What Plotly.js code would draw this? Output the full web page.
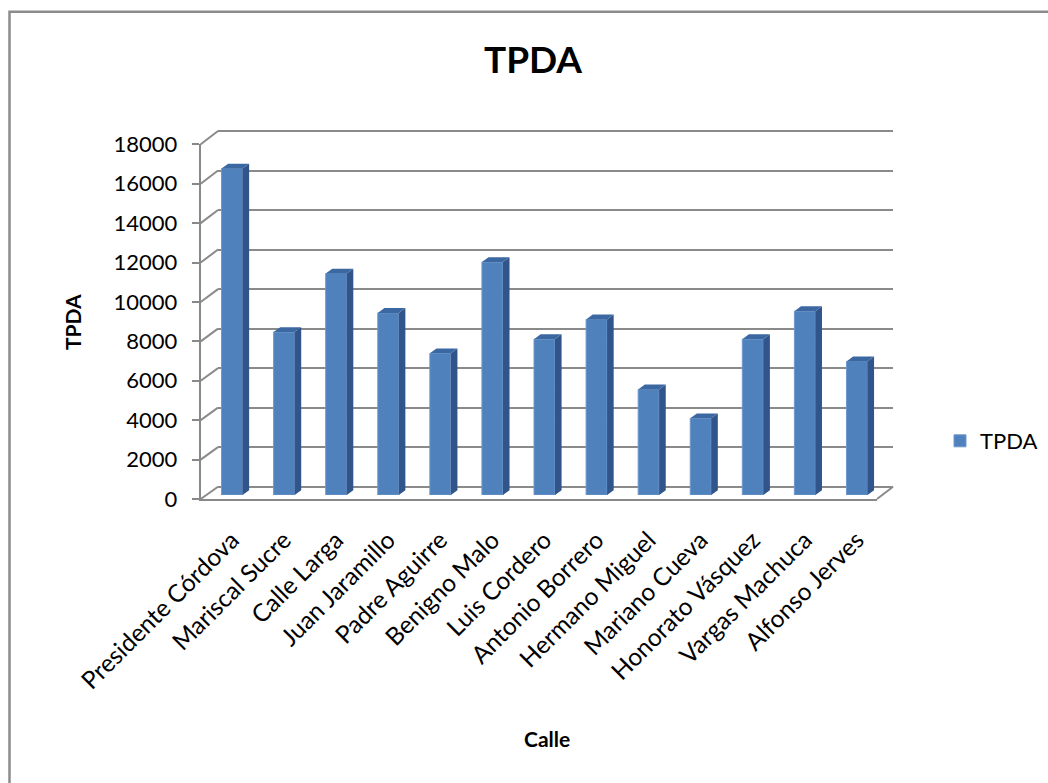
<!DOCTYPE html>
<html>
<head>
<meta charset="utf-8">
<script src="https://cdn.plot.ly/plotly-3.0.1.min.js"></script>
<style>
  html, body { margin: 0; padding: 0; background: #ffffff; }
  #chart { width: 1048px; height: 783px; }
</style>
</head>
<body>
<div id="chart"></div>
<script>
// Street names (x categories)
const categories = [
  "Presidente Córdova", "Mariscal Sucre", "Calle Larga", "Juan Jaramillo",
  "Padre Aguirre", "Benigno Malo", "Luis Cordero", "Antonio Borrero",
  "Hermano Miguel", "Mariano Cueva", "Honorato Vásquez", "Vargas Machuca",
  "Alfonso Jerves"
];

// TPDA value for each street
const tpda = [16570, 8270, 11240, 9240, 7190, 11820, 7910, 8910, 5360, 3890, 7910, 9330, 6780];

// Value axis ticks
const yTicks = [0, 2000, 4000, 6000, 8000, 10000, 12000, 14000, 16000, 18000];
const yMax = 18000;

const seriesName = "TPDA";
const chartTitle = "TPDA";
const xTitle = "Calle";
const yTitle = "TPDA";

// ---- page geometry (pixels) for the pseudo-3D box ----
const W = 1048, H = 783;
const fx = p => p / W;
const fy = p => 1 - p / H;

// front face of the box (value axis + floor edge)
const front = { left: 200.7, right: 877, bottom: 499, top: 144.3 };
// back wall with the gridlines
const back = { left: 218, right: 893, bottom: 486.7, top: 131 };
// band where the columns sit (mid depth)
const band = { left: 206, right: 883, base: 495 };
const pxPerUnit = (front.bottom - front.top) / yMax;
const step = (band.right - band.left) / categories.length;
// column depth offsets in pixels
const depthDx = 6.6, depthDy = 4.8;
const barWidth = 0.403;

const idx = categories.map((_, i) => i);

// Side and top faces of each column, built from the data values
const sideX = [], sideY = [], topX = [], topY = [];
const ddx = depthDx / step, ddy = depthDy / pxPerUnit;
tpda.forEach((v, i) => {
  const l = i - barWidth / 2, r = i + barWidth / 2;
  sideX.push(r, r, r + ddx, r + ddx, r, null);
  sideY.push(0, v, v + ddy, ddy, 0, null);
  topX.push(l, r, r + ddx, l + ddx, l, null);
  topY.push(v, v, v + ddy, v + ddy, v, null);
});

// invisible anchor traces so the wall and front axes get drawn
const anchorTrace = (xa, ya) => ({
  type: "scatter", mode: "markers", x: [0], y: [0],
  marker: { opacity: 0, size: 1 }, xaxis: xa, yaxis: ya,
  showlegend: false, hoverinfo: "skip"
});

const traces = [
  anchorTrace("x", "y"),
  anchorTrace("x3", "y3"),
  {
    type: "bar", x: idx, y: tpda, name: seriesName,
    xaxis: "x2", yaxis: "y2", width: barWidth,
    marker: { color: "#4F81BD", line: { color: "#6F98CC", width: 1 } },
    hoverinfo: "y"
  },
  {
    type: "scatter", mode: "lines", x: sideX, y: sideY, fill: "toself",
    fillcolor: "#31548A", line: { width: 0, color: "#31548A" },
    xaxis: "x2", yaxis: "y2", showlegend: false, hoverinfo: "skip"
  },
  {
    type: "scatter", mode: "lines", x: topX, y: topY, fill: "toself",
    fillcolor: "#3C68A2", line: { width: 0, color: "#3C68A2" },
    xaxis: "x2", yaxis: "y2", showlegend: false, hoverinfo: "skip"
  }
];

// back wall axis: only the gridlines, padded so the end lines are kept
const backScale = (back.bottom - back.top) / yMax;
const pad = 300;
const gridColor = "#8A8A8A";
const axisColor = "#888888";
const font = "Lato, 'Open Sans', sans-serif";

// bar axis range so that 0 sits at band.base
const barTopPx = 90;
const barRangeMax = (band.base - barTopPx) / pxPerUnit;

// front category axis range so that category centres line up with the columns
const c0 = band.left + step / 2;
const xFrontRange = [(front.left - c0) / step, (front.right - c0) / step];

// slanted connectors between the front value axis and the back wall
const shapes = yTicks.map(t => ({
  type: "line", xref: "paper", yref: "paper",
  x0: fx(front.left), y0: fy(front.bottom - t * pxPerUnit),
  x1: fx(back.left), y1: fy(back.bottom - t * backScale),
  line: { color: gridColor, width: 2 }
}));
// right edge of the floor
shapes.push({
  type: "line", xref: "paper", yref: "paper",
  x0: fx(front.right), y0: fy(front.bottom),
  x1: fx(back.right), y1: fy(back.bottom),
  line: { color: gridColor, width: 2 }
});
// chart area frame
shapes.push({
  type: "rect", xref: "paper", yref: "paper",
  x0: fx(9.5), y0: -0.2, x1: 1.2, y1: fy(11.8),
  line: { color: "#8C8C8C", width: 2.5 }, fillcolor: "rgba(0,0,0,0)"
});

const layout = {
  width: W, height: H,
  margin: { l: 0, r: 0, t: 0, b: 0 },
  paper_bgcolor: "#ffffff",
  plot_bgcolor: "rgba(0,0,0,0)",
  font: { family: font, color: "#000000" },
  title: {
    text: "<b>" + chartTitle + "</b>",
    font: { family: font, size: 37, color: "#000000" },
    x: fx(533), xanchor: "center", xref: "paper",
    y: fy(60), yanchor: "middle", yref: "paper"
  },
  showlegend: true,
  legend: {
    x: fx(940), y: fy(441), xanchor: "left", yanchor: "middle",
    font: { family: font, size: 22, color: "#000000" },
    bgcolor: "rgba(0,0,0,0)"
  },
  // back wall
  xaxis: {
    domain: [fx(back.left), fx(back.right)], range: [0, 1], anchor: "y",
    showgrid: false, zeroline: false, showline: false, showticklabels: false,
    ticks: "", fixedrange: true
  },
  yaxis: {
    domain: [fy(back.bottom + pad * backScale), fy(back.top - pad * backScale)],
    range: [-pad, yMax + pad], anchor: "x",
    tickmode: "array", tickvals: yTicks,
    showgrid: true, gridcolor: gridColor, gridwidth: 2,
    zeroline: false, showline: false, showticklabels: false, ticks: "",
    fixedrange: true
  },
  // columns
  xaxis2: {
    domain: [fx(band.left), fx(band.right)], range: [-0.5, categories.length - 0.5],
    anchor: "y2", visible: false, fixedrange: true
  },
  yaxis2: {
    domain: [fy(band.base), fy(barTopPx)], range: [0, barRangeMax],
    anchor: "x2", visible: false, fixedrange: true
  },
  // front axes with labels
  xaxis3: {
    domain: [fx(front.left), fx(front.right)], range: xFrontRange, anchor: "y3",
    tickmode: "array", tickvals: idx, ticktext: categories, tickangle: -45,
    ticks: "", ticklabelstandoff: 15,
    tickfont: { family: font, size: 24.5, color: "#000000" },
    showline: true, linecolor: axisColor, linewidth: 2,
    showgrid: false, zeroline: false, fixedrange: true
  },
  yaxis3: {
    domain: [fy(front.bottom), fy(front.top)], range: [0, yMax], anchor: "x3",
    tickmode: "array", tickvals: yTicks, ticktext: yTicks.map(String),
    ticks: "outside", ticklen: 7, tickwidth: 2, tickcolor: axisColor,
    ticklabelstandoff: 10,
    tickfont: { family: font, size: 22, color: "#000000" },
    showline: true, linecolor: axisColor, linewidth: 2,
    showgrid: false, zeroline: false, fixedrange: true
  },
  shapes: shapes,
  annotations: [
    {
      text: "<b>" + yTitle + "</b>", xref: "paper", yref: "paper",
      x: fx(72), y: fy(322), textangle: -90, showarrow: false,
      xanchor: "center", yanchor: "middle",
      font: { family: font, size: 21, color: "#000000" }
    },
    {
      text: "<b>" + xTitle + "</b>", xref: "paper", yref: "paper",
      x: fx(547), y: fy(738), showarrow: false,
      xanchor: "center", yanchor: "middle",
      font: { family: font, size: 21, color: "#000000" }
    }
  ]
};

Plotly.newPlot("chart", traces, layout, { displayModeBar: false, staticPlot: true });
</script>
</body>
</html>
